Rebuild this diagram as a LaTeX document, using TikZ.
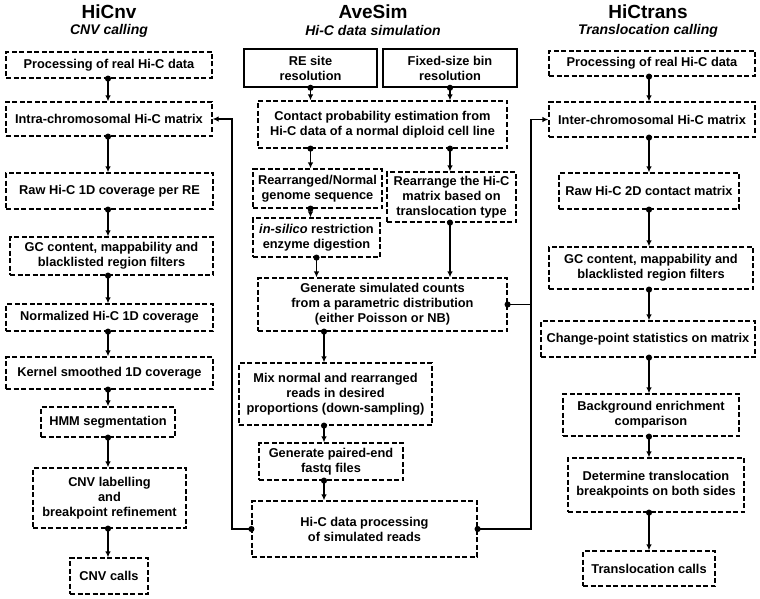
\documentclass[tikz,border=0pt]{standalone}
\usepackage{fontspec}
\setmainfont{Liberation Sans}
\usetikzlibrary{arrows.meta, positioning, calc}

\begin{document}
\begin{tikzpicture}[
    x=1pt, y=-1pt,
    stepbox/.style={rectangle, draw=black, line width=1.2pt, dash pattern=on 5pt off 2.5pt, align=center, inner sep=1pt, font=\bfseries\fontsize{12.8}{15}\selectfont},
    inbox/.style={stepbox, solid, line width=1.6pt},
    headline/.style={font=\bfseries\fontsize{19}{22}\selectfont},
    subline/.style={font=\bfseries\itshape\fontsize{14}{16}\selectfont},
    flow/.style={{Circle[length=6pt]}-{Latex[length=6pt, width=5.5pt]}, line width=1.8pt, shorten <=-3pt},
    link/.style={{Circle[length=6pt]}-, line width=1.8pt, shorten <=-3pt}
]
\useasboundingbox (0,0) rectangle (760,599);

% Headers
\node[headline] (cnvT) at (109,12) {HiCnv};
\node[subline] (cnvS) at (109,31) {CNV calling};
\node[headline] (simT) at (373,12) {AveSim};
\node[subline] (simS) at (373,31) {Hi-C data simulation};
\node[headline] (trT) at (648,12) {HiCtrans};
\node[subline] (trS) at (648,31) {Translocation calling};

% HiCnv column
\node[stepbox, minimum width=206pt, minimum height=26pt] (cnvA) at (109,65) {Processing of real Hi-C data};
\node[stepbox, minimum width=206pt, minimum height=34pt] (cnvB) at (109,119) {Intra-chromosomal Hi-C matrix};
\node[stepbox, minimum width=207pt, minimum height=36pt] (cnvC) at (109.5,191) {Raw Hi-C 1D coverage per RE};
\node[stepbox, minimum width=203pt, minimum height=38pt] (cnvD) at (111.5,256) {GC content, mappability and\\blacklisted region filters};
\node[stepbox, minimum width=207pt, minimum height=27pt] (cnvE) at (109.5,317.5) {Normalized Hi-C 1D coverage};
\node[stepbox, minimum width=207pt, minimum height=32pt] (cnvF) at (109.5,373) {Kernel smoothed 1D coverage};
\node[stepbox, minimum width=134pt, minimum height=30pt] (cnvG) at (108,422) {HMM segmentation};
\node[stepbox, minimum width=153pt, minimum height=60pt] (cnvH) at (109.5,498) {CNV labelling\\and\\breakpoint refinement};
\node[stepbox, minimum width=78pt, minimum height=36pt] (cnvI) at (109,576) {CNV calls};

% AveSim column
\node[inbox, minimum width=133pt, minimum height=38pt] (re) at (310.5,68) {RE site\\resolution};
\node[inbox, minimum width=134pt, minimum height=38pt] (fix) at (450,68) {Fixed-size bin\\resolution};
\node[stepbox, minimum width=249pt, minimum height=47pt] (ctc) at (382.5,124.5) {Contact probability estimation from\\Hi-C data of a normal diploid cell line};
\node[stepbox, minimum width=129pt, minimum height=39pt] (rgs) at (317.5,188.5) {Rearranged/Normal\\genome sequence};
\node[stepbox, minimum width=127pt, minimum height=39pt] (sil) at (316.5,237.5) {\textit{in-silico} restriction\\enzyme digestion};
\node[stepbox, minimum width=129pt, minimum height=50pt] (rhc) at (451.5,197) {Rearrange the Hi-C\\matrix based on\\translocation type};
\node[stepbox, minimum width=249pt, minimum height=53pt] (gen) at (382.5,304.5) {Generate simulated counts\\from a parametric distribution\\(either Poisson or NB)};
\node[stepbox, minimum width=193pt, minimum height=62pt] (mix) at (335.5,394) {Mix normal and rearranged\\reads in desired\\proportions (down-sampling)};
\node[stepbox, minimum width=144pt, minimum height=37pt] (pe) at (331,461.5) {Generate paired-end\\fastq files};
\node[stepbox, minimum width=225pt, minimum height=56pt] (hip) at (364.5,529) {Hi-C data processing\\of simulated reads};

% HiCtrans column
\node[stepbox, minimum width=206pt, minimum height=25pt] (trA) at (652,63.5) {Processing of real Hi-C data};
\node[stepbox, minimum width=206pt, minimum height=35pt] (trB) at (652,119.5) {Inter-chromosomal Hi-C matrix};
\node[stepbox, minimum width=180pt, minimum height=36pt] (trC) at (649,191) {Raw Hi-C 2D contact matrix};
\node[stepbox, minimum width=204pt, minimum height=42pt] (trD) at (651,268) {GC content, mappability and\\blacklisted region filters};
\node[stepbox, minimum width=214pt, minimum height=36pt] (trE) at (648,339) {Change-point statistics on matrix};
\node[stepbox, minimum width=176pt, minimum height=42pt] (trF) at (651,415) {Background enrichment\\comparison};
\node[stepbox, minimum width=176pt, minimum height=54pt] (trG) at (656,485) {Determine translocation\\breakpoints on both sides};
\node[stepbox, minimum width=132pt, minimum height=35pt] (trH) at (649,568.5) {Translocation calls};

% Guide lines for the arrows
\coordinate (lx) at (108,0);
\coordinate (mx) at (324,0);
\coordinate (rx) at (649,0);
\coordinate (lbus) at (232,0);
\coordinate (rbus) at (531,0);

% HiCnv flow
\draw[flow] (cnvA.south -| lx) -- (cnvB.north -| lx);
\draw[flow] (cnvB.south -| lx) -- (cnvC.north -| lx);
\draw[flow] (cnvC.south -| lx) -- (cnvD.north -| lx);
\draw[flow] (cnvD.south -| lx) -- (cnvE.north -| lx);
\draw[flow] (cnvE.south -| lx) -- (cnvF.north -| lx);
\draw[flow] (cnvF.south -| lx) -- (cnvG.north -| lx);
\draw[flow] (cnvG.south -| lx) -- (cnvH.north -| lx);
\draw[flow] (cnvH.south -| lx) -- (cnvI.north -| lx);

% AveSim flow
\draw[flow] (re.south) -- (re.south |- ctc.north);
\draw[flow] (fix.south) -- (fix.south |- ctc.north);
\draw[flow] (ctc.south -| re.south) -- (rgs.north -| re.south);
\draw[flow] (ctc.south -| fix.south) -- (rhc.north -| fix.south);
\draw[flow] (rgs.south -| re.south) -- (sil.north -| re.south);
\draw[flow] (sil.south) -- (sil.south |- gen.north);
\draw[flow] (rhc.south -| fix.south) -- (gen.north -| fix.south);
\draw[flow] (gen.south -| mx) -- (mix.north -| mx);
\draw[flow] (mix.south -| mx) -- (pe.north -| mx);
\draw[flow] (pe.south -| mx) -- (hip.north -| mx);

% HiCtrans flow
\draw[flow] (trA.south -| rx) -- (trB.north -| rx);
\draw[flow] (trB.south -| rx) -- (trC.north -| rx);
\draw[flow] (trC.south -| rx) -- (trD.north -| rx);
\draw[flow] (trD.south -| rx) -- (trE.north -| rx);
\draw[flow] (trE.south -| rx) -- (trF.north -| rx);
\draw[flow] (trF.south -| rx) -- (trG.north -| rx);
\draw[flow] (trG.south -| rx) -- (trH.north -| rx);

% Simulated data fed back to the callers
\draw[flow] (hip.west) -| (lbus |- cnvB.east) -- (cnvB.east);
\draw[flow] (hip.east) -| (rbus |- trB.west) -- (trB.west);
\draw[link] (gen.east) -- (gen.east -| rbus);

\end{tikzpicture}
\end{document}
